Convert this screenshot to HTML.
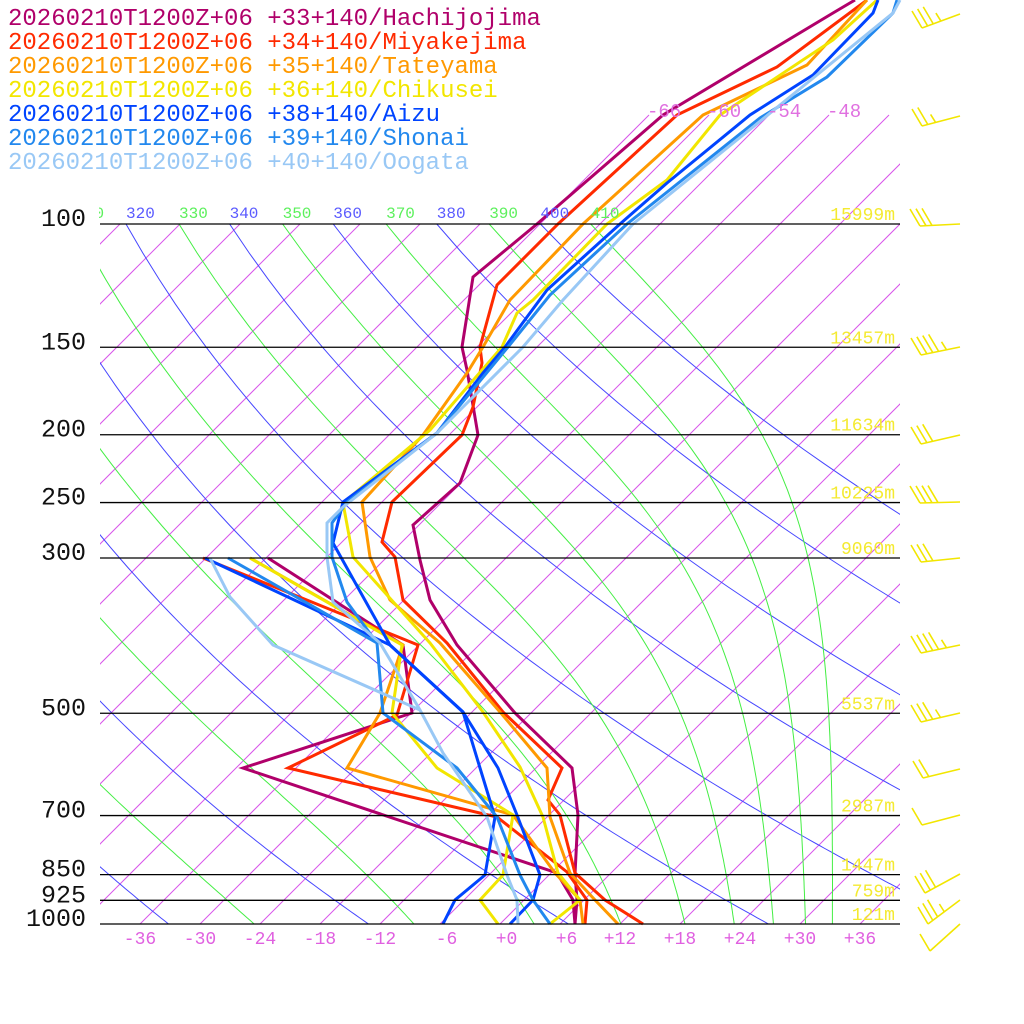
<!DOCTYPE html>
<html><head><meta charset="utf-8">
<style>
html,body{margin:0;padding:0;background:#fff;}
svg{display:block;}
text{font-family:"Liberation Mono",monospace;}
</style></head>
<body>
<svg id="s" xmlns="http://www.w3.org/2000/svg" width="1024" height="1024" viewBox="0 0 1024 1024">
<defs>
<clipPath id="cp"><rect x="100" y="224" width="800" height="700"/></clipPath>
<clipPath id="cpt"><rect x="100" y="110" width="800" height="814"/></clipPath>
<clipPath id="cpl"><rect x="99" y="190" width="801" height="40"/></clipPath>
</defs>
<g id="bg"></g>
<g id="ser" fill="none" stroke-width="3" stroke-linejoin="miter"></g>
<g id="fg"></g>
</svg>
<script>
(function(){
var NS="http://www.w3.org/2000/svg";
function el(parent,tag,attrs,txt){var e=document.createElementNS(NS,tag);for(var k in attrs)e.setAttribute(k,attrs[k]);if(txt!==undefined)e.textContent=txt;parent.appendChild(e);return e;}
var bg=document.getElementById('bg'),ser=document.getElementById('ser'),fg=document.getElementById('fg');
function yP(p){return 224+700*Math.log10(p/100);}
function xT(T,y){return 500+10*T+(924-y);}
// isotherms
var gi=el(bg,'g',{'clip-path':'url(#cp)',stroke:'#d855ea','stroke-width':'1',fill:'none'});
var gi2=el(bg,'g',{'clip-path':'url(#cpt)',stroke:'#d855ea','stroke-width':'1',fill:'none'});
for(var T=-150;T<=42;T+=6){
  if(T>=-66){el(gi2,'line',{x1:xT(T,924),y1:924,x2:xT(T,115),y2:115});}
  else el(gi,'line',{x1:xT(T,924),y1:924,x2:xT(T,0),y2:0});
}
[-66,-60,-54,-48].forEach(function(T){el(fg,'text',{x:xT(T,115)-2,y:117,fill:'#e070e0','font-size':'19'},String(T));});
// dry adiabats
var gd=el(bg,'g',{'clip-path':'url(#cp)',stroke:'#4646ff','stroke-width':'1',fill:'none'});
function dryT(th,p){return th*Math.pow(p/1000,0.2857)-273.15;}
for(var th=200;th<=400;th+=20){
  var pts=[];for(var p=90;p<=1010;p+=10){var y=yP(p);pts.push(xT(dryT(th,p),y).toFixed(1)+','+y.toFixed(1));}
  el(gd,'polyline',{points:pts.join(' ')});
}
// moist pseudo-adiabats
function thetaE(Tc,p){var TK=Tc+273.15;var es=6.112*Math.exp(17.67*Tc/(Tc+243.5));var r=622*es/(p-es);
 return TK*Math.pow(1000/p,0.2854*(1-0.00028*r))*Math.exp((3.376/TK-0.00254)*r*(1+0.00081*r));}
function moistT(te,p){var lo=-150,hi=60;for(var i=0;i<50;i++){var m=(lo+hi)/2;if(thetaE(m,p)>te)hi=m;else lo=m;}return (lo+hi)/2;}
var gm=el(bg,'g',{'clip-path':'url(#cp)',stroke:'#44ee44','stroke-width':'1',fill:'none'});
for(var te=210;te<=410;te+=20){
  var pts=[];for(var p=90;p<=1010;p+=10){var y=yP(p);pts.push(xT(moistT(te,p),y).toFixed(1)+','+y.toFixed(1));}
  el(gm,'polyline',{points:pts.join(' ')});
}
// theta labels
var gl=el(fg,'g',{'clip-path':'url(#cpl)','font-size':'16'});
for(var v=310;v<=410;v+=10){
  var even=(v/10)%2===0;var T=even?dryT(v,100):moistT(v,100);
  el(gl,'text',{x:xT(T,224).toFixed(1),y:218,fill:even?'#5a5aff':'#5cf05c'},String(v));
}
// pressure lines
var lv=[[100,'100','15999m'],[150,'150','13457m'],[200,'200','11634m'],[250,'250','10225m'],[300,'300','9060m'],[500,'500','5537m'],[700,'700','2987m'],[850,'850','1447m'],[925,'925','759m'],[1000,'1000','121m']];
lv.forEach(function(l){var y=yP(l[0]);
 el(fg,'text',{x:895,y:y-4,'text-anchor':'end',fill:'#f4ea30','font-size':'18'},l[2]);
 el(fg,'line',{x1:100,y1:y,x2:900,y2:y,stroke:'#000','stroke-width':'1.3'});
 el(fg,'text',{x:86,y:y+2,'text-anchor':'end',fill:'#111','font-size':'25'},l[1]);
});
// bottom labels
for(var T=-36;T<=36;T+=6){var s=(T>=0?'+':'')+T;var x=500+10*T;if(s.length===2)x+=6.5;
 el(fg,'text',{x:x,y:944,'text-anchor':'middle',fill:'#e060e0','font-size':'18'},s);}
// series
var S=[
['#b0006a',"855,0 833,13 663,115 537,224 473,277 462,347 467,370 478,435 460,483 413,525 420,560 430,600 457,645 515,713 572,768 578,815 575,874 577,900 575,924",
 "575,924 573,900 557,873 243,768 412,713 403,645 268,558"],
['#ff2a00',"867,0 777,67 677,115 558,224 497,285 480,347 482,363 473,407 462,435 392,502 382,542 395,557 403,600 447,643 503,712 562,768 548,800 560,815 575,873 605,900 643,924",
 "585,924 587,900 567,872 497,817 288,768 397,715 418,645 203,558"],
['#ff9900',"867,0 807,65 703,115 583,224 510,300 483,347 467,373 423,435 362,502 370,557 390,600 440,643 500,712 547,768 550,817 570,873 595,900 618,924",
 "583,924 580,900 555,873 513,815 347,768 380,713 403,645 250,558"],
['#f2e600',"877,0 833,40 720,115 667,180 607,224 533,300 517,313 502,347 430,430 343,503 353,557 430,643 483,712 520,767 543,817 558,873 580,900 550,924",
 "498,924 480,900 503,875 513,815 437,768 392,713 402,645 250,558"],
['#0044ff',"878,0 873,13 813,75 750,115 667,183 620,224 547,290 527,317 505,347 483,373 437,433 343,502 333,543 390,645 463,712 498,768 517,815 540,875 533,900 510,924",
 "443,924 455,900 485,875 495,817 480,768 463,712 390,645 205,558"],
['#2288ee',"897,0 893,13 827,77 760,118 627,224 550,295 508,347 437,433 347,502 332,523 332,557 347,602 377,643 383,713 457,768 497,817 520,875 533,900 550,924",
 "228,558 377,643"],
['#99c8f5',"900,0 893,13 753,127 633,224 563,300 523,347 437,433 343,507 327,523 327,557 333,602 380,643 420,710 443,753 487,817 507,875 517,900 518,924",
 "210,558 230,597 273,645 420,710"]
];
S.forEach(function(s){el(ser,'polyline',{points:s[1],stroke:s[0]});el(ser,'polyline',{points:s[2],stroke:s[0]});});
// legend
var names=['+33+140/Hachijojima','+34+140/Miyakejima','+35+140/Tateyama','+36+140/Chikusei','+38+140/Aizu','+39+140/Shonai','+40+140/Oogata'];
names.forEach(function(n,i){el(fg,'text',{x:8,y:25+24*i,fill:S[i][0],'font-size':'24'},'20260210T1200Z+06 '+n);});
// wind barbs
var gb=el(fg,'g',{stroke:'#f2e600','stroke-width':'1.6',fill:'none'});
function barb(bx,by,ex,ey,n,half){
 el(gb,'line',{x1:bx,y1:by,x2:ex,y2:ey});
 var dx=(ex-bx),dy=(ey-by),L=Math.sqrt(dx*dx+dy*dy);var ux=dx/L,uy=dy/L;
 for(var i=0;i<n;i++){var px=bx+ux*6*i,py=by+uy*6*i;el(gb,'line',{x1:px,y1:py,x2:px-10,y2:py-17});}
 if(half){var px=bx+ux*6*n+2,py=by+uy*(6*n+2);el(gb,'line',{x1:px,y1:py,x2:px-5,y2:py-8});}
}
barb(922,28,960,14,3,1);
barb(922,126,960,116,2,1);
barb(920,226,960,224,3,0);
barb(921,355,960,347,4,1);
barb(921,444,960,435,3,0);
barb(920,503,960,502,4,0);
barb(921,562,960,558,3,0);
barb(921,653,960,645,4,1);
barb(921,722,960,713,3,1);
barb(923,778,960,769,2,0);
barb(922,825,960,815,1,0);
barb(925,893,960,874,3,0);
barb(928,924,960,900,3,1);
barb(930,951,960,924,1,0);
})();
</script>
</body></html>
